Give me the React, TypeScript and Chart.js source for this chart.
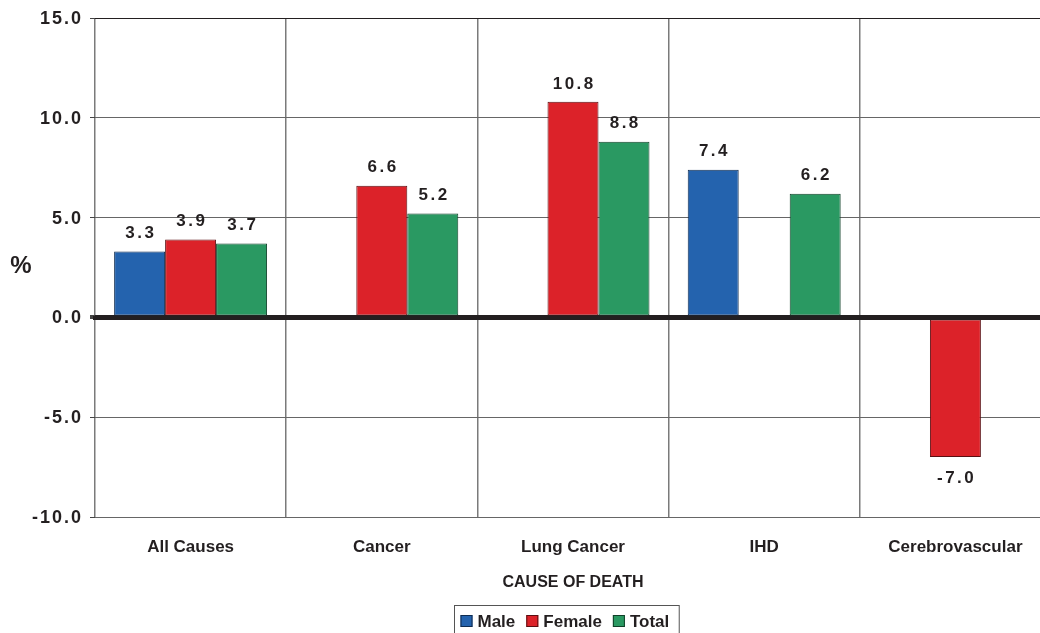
import { useEffect, useRef } from 'react';
import { Chart, registerables } from 'chart.js';

Chart.register(...registerables);

// Percent change by cause of death, split by sex
const causes = ['All Causes', 'Cancer', 'Lung Cancer', 'IHD', 'Cerebrovascular'];
const maleValues = [3.3, null, null, 7.4, null];
const femaleValues = [3.9, 6.6, 10.8, null, -7.0];
const totalValues = [3.7, 5.2, 8.8, 6.2, null];

const seriesNames = ['Male', 'Female', 'Total'];
const seriesColors = ['#2463ae', '#dc2229', '#2a9962'];
const seriesBorders = ['#0f2b4f', '#5a0f12', '#103f28'];

const yMin = -10;
const yMax = 15;
const yStep = 5;

const FONT = '"Liberation Sans", Arial, Helvetica, sans-serif';
const INK = '#231f20';

const CANVAS_W = 1070;
const CANVAS_H = 650;

// Y tick labels, value labels, the "%" label, the zero line and the boxed legend
const decorations = {
  id: 'decorations',
  afterDatasetsDraw(chart: any) {
    const { ctx, chartArea, scales } = chart;
    const yScale = scales.y;

    // heavy zero line over the bar bases
    const y0 = yScale.getPixelForValue(0);
    ctx.save();
    ctx.strokeStyle = INK;
    ctx.lineWidth = 4;
    ctx.beginPath();
    ctx.moveTo(chartArea.left - 2, y0 + 0.5);
    ctx.lineTo(chartArea.right, y0 + 0.5);
    ctx.stroke();
    ctx.restore();

    // value labels
    ctx.save();
    ctx.font = `bold 17px ${FONT}`;
    ctx.fillStyle = INK;
    ctx.textAlign = 'center';
    ctx.textBaseline = 'middle';
    (ctx as any).letterSpacing = '2.5px';
    chart.data.datasets.forEach((ds: any, i: number) => {
      const meta = chart.getDatasetMeta(i);
      meta.data.forEach((el: any, j: number) => {
        const v = ds.data[j];
        if (v === null || v === undefined) return;
        const ty = v >= 0 ? el.y - 18 : el.y + 21;
        ctx.fillText(v.toFixed(1), el.x + 1.25, ty);
      });
    });
    ctx.restore();
  },
  afterDraw(chart: any) {
    const { ctx, chartArea, scales } = chart;
    const yScale = scales.y;

    // y tick labels
    ctx.save();
    ctx.font = `bold 18px ${FONT}`;
    ctx.fillStyle = INK;
    ctx.textAlign = 'right';
    ctx.textBaseline = 'middle';
    (ctx as any).letterSpacing = '2px';
    yScale.ticks.forEach((t: any) => {
      const py = yScale.getPixelForValue(t.value);
      ctx.fillText(Number(t.value).toFixed(1), chartArea.left - 14 + 2, py + 1);
    });
    ctx.restore();

    // unit label
    ctx.save();
    ctx.font = `bold 24px ${FONT}`;
    ctx.fillStyle = INK;
    ctx.textAlign = 'center';
    ctx.textBaseline = 'middle';
    ctx.fillText('%', 21, (chartArea.top + chartArea.bottom) / 2 - 1);
    ctx.restore();

    // boxed legend
    ctx.save();
    ctx.font = `bold 17px ${FONT}`;
    ctx.textBaseline = 'middle';
    ctx.textAlign = 'left';
    const box = 12;
    const gapBoxText = 5;
    const gapItem = 11;
    const padL = 6;
    const padR = 10;
    const widths = seriesNames.map((n) => ctx.measureText(n).width);
    const total =
      padL + padR + widths.reduce((a, w) => a + box + gapBoxText + w, 0) + gapItem * (seriesNames.length - 1);
    const cx = (chartArea.left + chartArea.right) / 2 - 6.5;
    const left = Math.round(cx - total / 2) + 0.5;
    const top = 605.5;
    ctx.strokeStyle = '#555';
    ctx.lineWidth = 1;
    ctx.strokeRect(left, top, total, 40);
    let x = left + padL;
    const cy = 621;
    seriesNames.forEach((name, i) => {
      ctx.fillStyle = seriesColors[i];
      ctx.fillRect(x, cy - 6, box, box);
      ctx.strokeStyle = seriesBorders[i];
      ctx.strokeRect(x + 0.5, cy - 5.5, box - 1, box - 1);
      x += box + gapBoxText;
      ctx.fillStyle = INK;
      ctx.fillText(name, x, cy + 1);
      x += widths[i] + gapItem;
    });
    ctx.restore();
  },
};

export default function App() {
  const canvasRef = useRef<HTMLCanvasElement | null>(null);

  useEffect(() => {
    const canvas = canvasRef.current;
    if (!canvas) return;
    const seriesValues = [maleValues, femaleValues, totalValues];
    const chart = new Chart(canvas, {
      type: 'bar',
      data: {
        labels: causes,
        datasets: seriesNames.map((name, i) => ({
          label: name,
          data: seriesValues[i],
          backgroundColor: seriesColors[i],
          borderColor: seriesBorders[i],
          borderWidth: 1,
          borderSkipped: false,
          barPercentage: 1,
          categoryPercentage: 0.8,
        })),
      },
      options: {
        responsive: false,
        animation: false,
        devicePixelRatio: 1,
        layout: { padding: { top: 18, left: 0, right: 19, bottom: 58 } },
        plugins: {
          legend: { display: false },
          tooltip: { enabled: false },
        },
        scales: {
          x: {
            grid: {
              offset: true,
              color: '#7a7a7a',
              lineWidth: 1.5,
              drawTicks: false,
            },
            border: { display: false },
            ticks: {
              color: INK,
              font: { family: FONT, size: 17, weight: 'bold' },
              padding: 20,
              maxRotation: 0,
              autoSkip: false,
            },
            title: {
              display: true,
              text: 'CAUSE OF DEATH',
              color: INK,
              font: { family: FONT, size: 16, weight: 'bold' },
              padding: { top: 0, bottom: 0 },
            },
            afterFit: (scale: any) => {
              scale.height = 75;
            },
          },
          y: {
            min: yMin,
            max: yMax,
            ticks: { stepSize: yStep, display: false },
            grid: {
              color: (c: any) => (c.tick && (c.tick.value === 0 || c.tick.value === yMax) ? INK : '#666'),
              lineWidth: (c: any) => (c.tick && c.tick.value === 0 ? 4 : 1),
              drawTicks: true,
              tickLength: 5,
              tickColor: '#444',
            },
            border: { display: false },
            afterFit: (scale: any) => {
              scale.width = 95;
            },
          },
        },
      },
      plugins: [decorations],
    });
    return () => chart.destroy();
  }, []);

  return (
    <div
      style={{
        position: 'fixed',
        left: 0,
        top: 0,
        width: 1040,
        height: 633,
        overflow: 'hidden',
        background: '#fff',
      }}
    >
      <canvas ref={canvasRef} width={CANVAS_W} height={CANVAS_H} style={{ display: 'block' }} />
    </div>
  );
}
